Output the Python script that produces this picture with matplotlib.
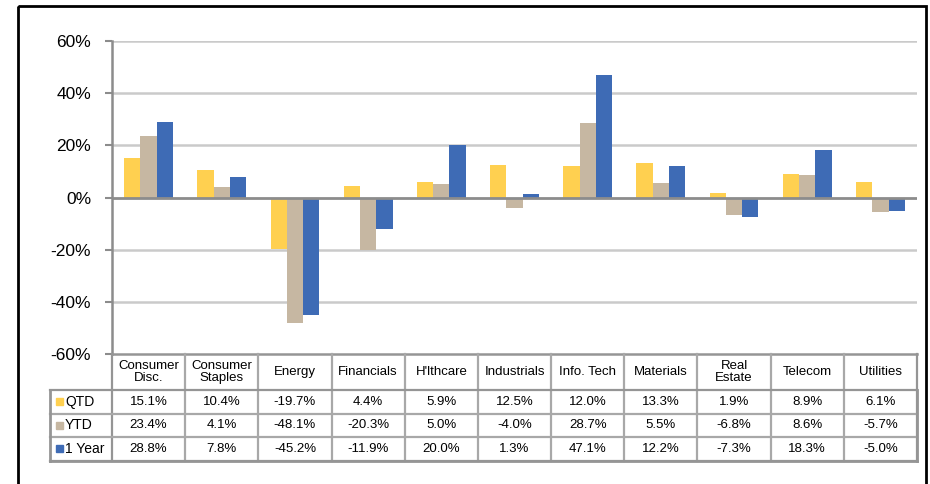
import numpy as np
import matplotlib
matplotlib.use("Agg")
from matplotlib import pyplot as plt
from matplotlib.patches import Rectangle

plt.rcParams['font.family'] = ['Liberation Sans', 'DejaVu Sans']

# data
sectors = ["Consumer\nDisc.", "Consumer\nStaples", "Energy", "Financials", "H'lthcare",
           "Industrials", "Info. Tech", "Materials", "Real\nEstate", "Telecom", "Utilities"]
series_names = ["QTD", "YTD", "1 Year"]
qtd = [15.1, 10.4, -19.7, 4.4, 5.9, 12.5, 12.0, 13.3, 1.9, 8.9, 6.1]
ytd = [23.4, 4.1, -48.1, -20.3, 5.0, -4.0, 28.7, 5.5, -6.8, 8.6, -5.7]
one_year = [28.8, 7.8, -45.2, -11.9, 20.0, 1.3, 47.1, 12.2, -7.3, 18.3, -5.0]
yticks = [-60, -40, -20, 0, 20, 40, 60]
colors = ["#FFD050", "#C6B7A2", "#3E6BB5"]

W, H = 930, 484
fig = plt.figure(figsize=(W / 100, H / 100), dpi=100)

# pixel layout
ax_l, ax_r, ax_t, ax_b = 112, 917, 41, 354
ax = fig.add_axes([ax_l / W, 1 - ax_b / H, (ax_r - ax_l) / W, (ax_b - ax_t) / H])

n = len(sectors)
x = np.arange(n)
bw = 0.222
for k, vals in enumerate([qtd, ytd, one_year]):
    ax.bar(x + (k - 1) * bw, vals, bw, color=colors[k], zorder=3)

ax.set_xlim(-0.5, n - 0.5)
ax.set_ylim(-60, 60)
ax.set_yticks(yticks)
ax.set_yticklabels([f"{v}%" for v in yticks], fontsize=12.5)
ax.set_xticks([])
for v in yticks:
    if v == 0:
        ax.axhline(v, color="#8C8C8C", lw=2, zorder=4)
    elif v != -60:
        ax.axhline(v, color="#CACACA", lw=1.8, zorder=1)
for s in ["top", "right", "bottom"]:
    ax.spines[s].set_visible(False)
ax.spines["left"].set_color("#8C8C8C")
ax.spines["left"].set_linewidth(1.8)
ax.tick_params(axis="y", length=5, width=1.5, color="#8C8C8C", pad=10)

# overlay for table and frame, pixel coordinates
ov = fig.add_axes([0, 0, 1, 1])
ov.set_xlim(0, W)
ov.set_ylim(H, 0)
ov.axis("off")

cw = (ax_r - ax_l) / n
lab_l = 50
hdr_b = 390
row_h = 23.5
rows_b = hdr_b + 3 * row_h
line_c = "#A8A8A8"
edge_c = "#959595"

# header row
ov.plot([ax_l, ax_r], [ax_b, ax_b], color=edge_c, lw=1.8)
for i in range(n + 1):
    xx = ax_l + i * cw
    ov.plot([xx, xx], [ax_b, rows_b], color=line_c if 0 < i < n else edge_c, lw=1.6)
for i, name in enumerate(sectors):
    ov.text(ax_l + (i + 0.5) * cw, (ax_b + hdr_b) / 2, name, ha="center", va="center",
            fontsize=9.5, linespacing=1.0)

# data rows
for r in range(4):
    yy = hdr_b + r * row_h
    ov.plot([lab_l, ax_r], [yy, yy], color=line_c if 0 < r < 3 else edge_c, lw=1.6)
ov.plot([lab_l, ax_r], [rows_b, rows_b], color=edge_c, lw=2)
ov.plot([lab_l, lab_l], [hdr_b, rows_b], color=edge_c, lw=2)
ov.plot([ax_r, ax_r], [hdr_b, rows_b], color=edge_c, lw=2)

for r, (name, vals) in enumerate(zip(series_names, [qtd, ytd, one_year])):
    yc = hdr_b + (r + 0.5) * row_h
    ov.add_patch(Rectangle((56, yc - 3.5), 7, 7, color=colors[r]))
    ov.text(65, yc, name, ha="left", va="center", fontsize=10)
    for i, v in enumerate(vals):
        ov.text(ax_l + (i + 0.5) * cw, yc, f"{v:.1f}%", ha="center", va="center", fontsize=9.5)

# outer frame
ov.add_patch(Rectangle((18, 6), 908, 500, fill=False, ec="black", lw=2, clip_on=False))

fig.savefig("out.png", dpi=100)
